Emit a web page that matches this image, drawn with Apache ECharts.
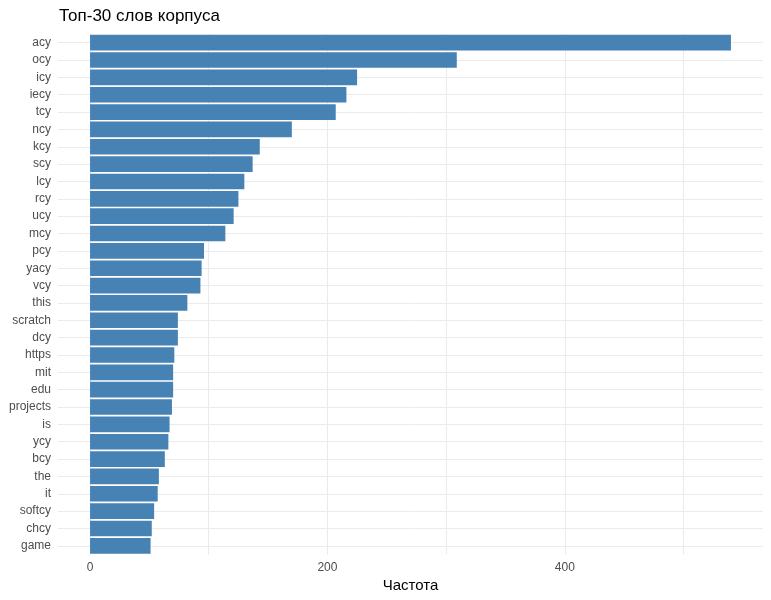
<!DOCTYPE html>
<html>
<head>
<meta charset="utf-8">
<title>Топ-30 слов корпуса</title>
<script src="https://cdn.jsdelivr.net/npm/echarts@6/dist/echarts.min.js"></script>
<style>
  html, body { margin: 0; padding: 0; background: #fff; }
  #chart { width: 771px; height: 600px; }
</style>
</head>
<body>
<div id="chart"></div>
<script>
// слова, сверху вниз
var words = ['acy', 'ocy', 'icy', 'iecy', 'tcy', 'ncy', 'kcy', 'scy', 'lcy', 'rcy',
             'ucy', 'mcy', 'pcy', 'yacy', 'vcy', 'this', 'scratch', 'dcy', 'https', 'mit',
             'edu', 'projects', 'is', 'ycy', 'bcy', 'the', 'it', 'softcy', 'chcy', 'game'];
var counts = [540, 309, 225, 216, 207, 170, 143, 137, 130, 125,
              121, 114, 96, 94, 93, 82, 74, 74, 71, 70,
              70, 69, 67, 66, 63, 58, 57, 54, 52, 51];
var gridTicks = [0, 100, 200, 300, 400, 500];
var labelTicks = [0, 200, 400];

// позиции горизонтальных линий сетки (по центру каждой категории)
var rowIdx = words.map(function (w, i) { return i; });

var myChart = echarts.init(document.getElementById('chart'));
var option = {
    animation: false,
    title: {
        text: 'Топ-30 слов корпуса',
        left: 54,
        top: 3,
        textStyle: { fontFamily: 'Liberation Sans', fontSize: 17, fontWeight: 'normal', color: '#000' }
    },
    grid: { left: 58, right: 8, top: 34, bottom: 45.5, containLabel: false },
    xAxis: {
        type: 'value',
        min: -27,
        max: 567,
        name: 'Частота',
        nameLocation: 'middle',
        nameGap: 20,
        nameTextStyle: { fontFamily: 'Liberation Sans', fontSize: 15, color: '#000', verticalAlign: 'top' },
        axisLine: { show: false },
        axisTick: { show: false, customValues: gridTicks },
        splitLine: { show: true, lineStyle: { color: '#ebebeb', width: 1 } },
        axisLabel: { customValues: labelTicks, color: '#4d4d4d', fontFamily: 'Liberation Sans', fontSize: 12, margin: 7 }
    },
    yAxis: [
        {
            type: 'category',
            data: words,
            inverse: true,
            axisLine: { show: false },
            axisTick: { show: false },
            splitLine: { show: false },
            axisLabel: { color: '#4d4d4d', fontFamily: 'Liberation Sans', fontSize: 12, margin: 7 }
        },
        {
            // невидимая ось только для линий сетки
            type: 'value',
            position: 'left',
            min: -0.5,
            max: 29.5,
            inverse: true,
            axisLine: { show: false },
            axisTick: { show: false, customValues: rowIdx },
            axisLabel: { show: false, customValues: rowIdx },
            splitLine: { show: true, lineStyle: { color: '#ebebeb', width: 1 } }
        }
    ],
    series: [
        {
            type: 'bar',
            yAxisIndex: 0,
            data: counts,
            barCategoryGap: '10%',
            itemStyle: { color: '#4682b4' },
            z: 3
        }
    ]
};
myChart.setOption(option);
</script>
</body>
</html>
